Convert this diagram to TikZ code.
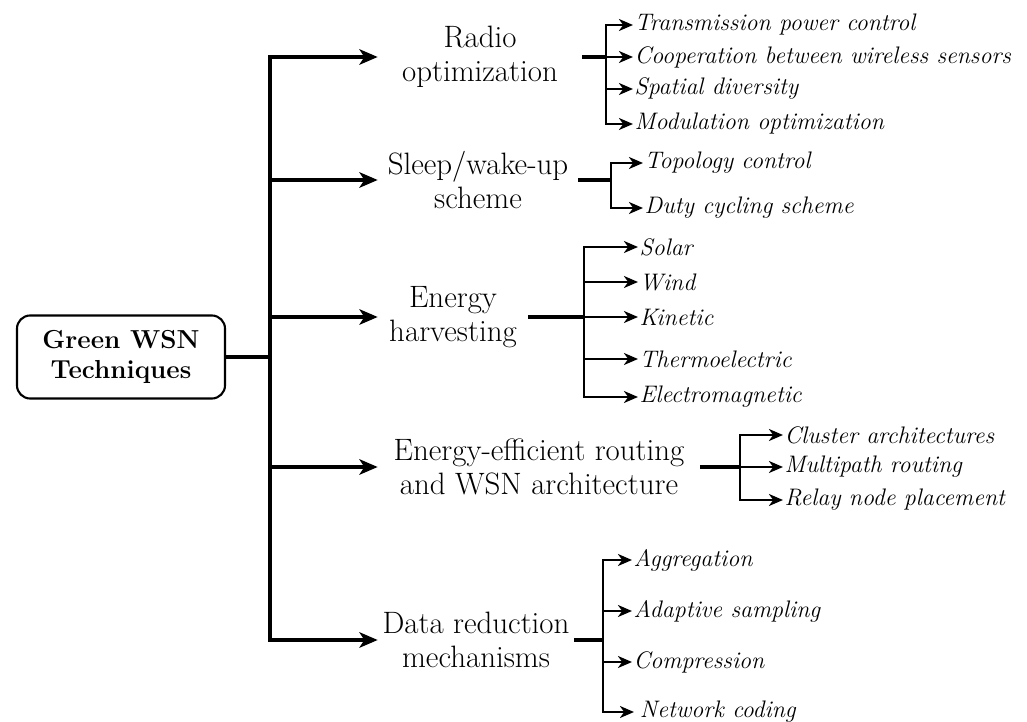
\documentclass[tikz,border=0pt]{standalone}
\usepackage{fontspec}
\usetikzlibrary{arrows.meta,calc}

\begin{document}
\begin{tikzpicture}[x=0.025cm,y=-0.025cm,
  rootbox/.style={draw,line width=1.5pt,rounded corners=0.33cm,align=center,
    minimum width=5.2cm,minimum height=2.075cm,
    font=\fontsize{18.5}{21.5}\selectfont\bfseries},
  cat/.style={inner sep=0pt,align=center,font=\fontsize{22}{24}\selectfont},
  leaf/.style={anchor=west,inner xsep=1pt,inner ysep=0pt,
    font=\fontsize{17}{19}\selectfont\itshape},
  feed/.style={line width=2.2pt},
  bus/.style={line width=1.5pt,line cap=rect},
  mainarr/.style={line width=2.2pt,-{Stealth[length=13pt,width=11pt,inset=3.5pt]}},
  subarr/.style={line width=1.5pt,-{Stealth[length=10pt,width=8.5pt,inset=3pt]}}]
\useasboundingbox (0,0) rectangle (1027,722);

% root and first level
\node[rootbox] (root) at (121,357) {Green WSN\\Techniques};
\coordinate (trunk) at (270,357);

\node[cat,minimum width=5.1cm]  (radio)   at (480,57)  {Radio\\optimization};
\node[cat,minimum width=5cm]    (sleep)   at (478,180) {Sleep/wake-up\\scheme};
\node[cat,minimum width=3.75cm] (energy)  at (453,317) {Energy\\harvesting};
\node[cat,minimum width=8.05cm] (routing) at (539,467) {Energy-efficient routing\\and WSN architecture};
\node[cat,minimum width=4.9cm]  (data)    at (476,640) {Data reduction\\mechanisms};

\draw[feed] (root.east) -- (trunk);
\draw[feed,line cap=rect] (trunk |- radio) -- (trunk |- data);
\draw[mainarr] (trunk |- radio) -- (radio);
\draw[mainarr] (trunk |- sleep) -- (sleep);
\draw[mainarr] (trunk |- energy) -- (energy);
\draw[mainarr] (trunk |- routing) -- (routing);
\draw[mainarr] (trunk |- data) -- (data);

% radio optimization
\coordinate (rbus) at (606,57);
\node[leaf] (r1) at (633,25)  {Transmission power control};
\node[leaf] (r2) at (633,57)  {Cooperation between wireless sensors};
\node[leaf] (r3) at (633,89)  {Spatial diversity};
\node[leaf] (r4) at (633,124) {Modulation optimization};
\draw[feed] (radio.east) -- (radio.east -| rbus);
\draw[bus] (rbus |- r1) -- (rbus |- r4);
\draw[subarr] (rbus |- r1) -- (r1);
\draw[subarr] (rbus |- r2) -- (r2);
\draw[subarr] (rbus |- r3) -- (r3);
\draw[subarr] (rbus |- r4) -- (r4);

% sleep/wake-up
\coordinate (sbus) at (611,180);
\node[leaf] (s1) at (643,163) {Topology control};
\node[leaf] (s2) at (643,208) {Duty cycling scheme};
\draw[feed] (sleep.east) -- (sleep.east -| sbus);
\draw[bus] (sbus |- s1) -- (sbus |- s2);
\draw[subarr] (sbus |- s1) -- (s1);
\draw[subarr] (sbus |- s2) -- (s2);

% energy harvesting
\coordinate (ebus) at (584,317);
\node[leaf] (e1) at (638,247) {Solar};
\node[leaf] (e2) at (638,282) {Wind};
\node[leaf] (e3) at (638,317) {Kinetic};
\node[leaf] (e4) at (638,359) {Thermoelectric};
\node[leaf] (e5) at (638,397) {Electromagnetic};
\draw[feed] (energy.east) -- (energy.east -| ebus);
\draw[bus] (ebus |- e1) -- (ebus |- e5);
\draw[subarr] (ebus |- e1) -- (e1);
\draw[subarr] (ebus |- e2) -- (e2);
\draw[subarr] (ebus |- e3) -- (e3);
\draw[subarr] (ebus |- e4) -- (e4);
\draw[subarr] (ebus |- e5) -- (e5);

% routing and architecture
\coordinate (abus) at (740,467);
\node[leaf] (a1) at (783,435) {Cluster architectures};
\node[leaf] (a2) at (783,467) {Multipath routing};
\node[leaf] (a3) at (783,500) {Relay node placement};
\draw[feed] (routing.east) -- (routing.east -| abus);
\draw[bus] (abus |- a1) -- (abus |- a3);
\draw[subarr] (abus |- a1) -- (a1);
\draw[subarr] (abus |- a2) -- (a2);
\draw[subarr] (abus |- a3) -- (a3);

% data reduction
\coordinate (dbus) at (603,640);
\node[leaf] (d1) at (632,560) {Aggregation};
\node[leaf] (d2) at (632,611) {Adaptive sampling};
\node[leaf] (d3) at (632,662) {Compression};
\node[leaf,inner xsep=4pt] (d4) at (634,712) {Network coding};
\draw[feed] (data.east) -- (data.east -| dbus);
\draw[bus] (dbus |- d1) -- (dbus |- d4);
\draw[subarr] (dbus |- d1) -- (d1);
\draw[subarr] (dbus |- d2) -- (d2);
\draw[subarr] (dbus |- d3) -- (d3);
\draw[subarr] (dbus |- d4) -- (d4);

\end{tikzpicture}
\end{document}
